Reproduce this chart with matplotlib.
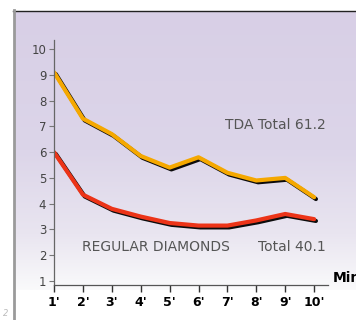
import numpy as np
import matplotlib.pyplot as plt
import matplotlib.patheffects as pe
from matplotlib.colors import LinearSegmentedColormap

# data
minutes = [1, 2, 3, 4, 5, 6, 7, 8, 9, 10]
minute_labels = ["1'", "2'", "3'", "4'", "5'", "6'", "7'", "8'", "9'", "10'"]
tda = [9.1, 7.3, 6.7, 5.85, 5.4, 5.8, 5.2, 4.9, 5.0, 4.25]
regular = [6.0, 4.35, 3.8, 3.5, 3.25, 3.15, 3.15, 3.35, 3.6, 3.4]
y_ticks = [1, 2, 3, 4, 5, 6, 7, 8, 9, 10]

W, H = 356, 320
fig = plt.figure(figsize=(W / 100, H / 100), dpi=100)

# background panel with lavender gradient
bg = fig.add_axes([15 / W, 1 - 290 / H, 1 - 15 / W, 279 / H])
cmap = LinearSegmentedColormap.from_list(
    'bg', [(0, '#d8cfe6'), (0.5, '#dcd5e9'), (0.8, '#e9e5f0'), (1, '#fafafb')])
grad = np.linspace(0, 1, 256).reshape(-1, 1)
bg.imshow(grad, aspect='auto', cmap=cmap, extent=[0, 1, 0, 1], origin='upper')
bg.set_axis_off()

# frame lines
fig.add_artist(plt.Line2D([13 / W, 1], [1 - 10.5 / H] * 2, color='#222222', lw=1.0))
fig.add_artist(plt.Line2D([14 / W] * 2, [0, 1 - 10 / H], color='#9a9a9a', lw=2.0))

ax = fig.add_axes([54 / W, 1 - 285 / H, 274 / W, 245 / H])
ax.set_facecolor('none')
ax.set_xlim(1, 10.48)
ax.set_ylim(0.845, 10.35)

shadow = [pe.SimpleLineShadow(offset=(1.3, -1.3), shadow_color='black', alpha=0.95),
          pe.Normal()]
ax.plot(minutes, tda, color='#f5a800', lw=3.0, solid_joinstyle='round',
        solid_capstyle='round', path_effects=shadow)
ax.plot(minutes, regular, color='#ec3418', lw=3.0, solid_joinstyle='round',
        solid_capstyle='round', path_effects=shadow)

for s in ['top', 'right']:
    ax.spines[s].set_visible(False)
ax.spines['left'].set_color('#666666')
ax.spines['bottom'].set_color('#555555')
ax.spines['left'].set_linewidth(0.9)
ax.spines['bottom'].set_linewidth(0.9)

ax.set_yticks(y_ticks)
ax.set_yticklabels([str(v) for v in y_ticks], fontsize=8.5, color='#444444')
ax.tick_params(axis='y', length=3.5, width=0.8, color='#777777', pad=2)

ax.set_xticks(minutes)
ax.set_xticklabels(minute_labels, fontsize=9, fontweight='bold', color='black')
ax.tick_params(axis='x', direction='out', length=5, width=1.0, color='#333333', pad=3)
# even minutes get lighter ticks
for i, t in enumerate(ax.xaxis.get_ticklines()):
    if (i // 2) % 2 == 1:
        t.set_color('#aaaaaa')

ax.text(10.4, 7.05, 'TDA Total 61.2', fontsize=10, color='#555555',
        va='center', ha='right')
ax.text(1.98, 2.3, 'REGULAR DIAMONDS', fontsize=10, color='#555555', va='center')
ax.text(10.4, 2.3, 'Total 40.1', fontsize=10, color='#555555', va='center', ha='right')

fig.text(333 / W, 1 - 282 / H, 'Min', fontsize=10, fontweight='bold', color='black',
         va='baseline', ha='left')
fig.text(3 / W, 1 - 316 / H, '2', fontsize=6, color='#bbbbbb', style='italic')

fig.savefig('out.png', dpi=100)
